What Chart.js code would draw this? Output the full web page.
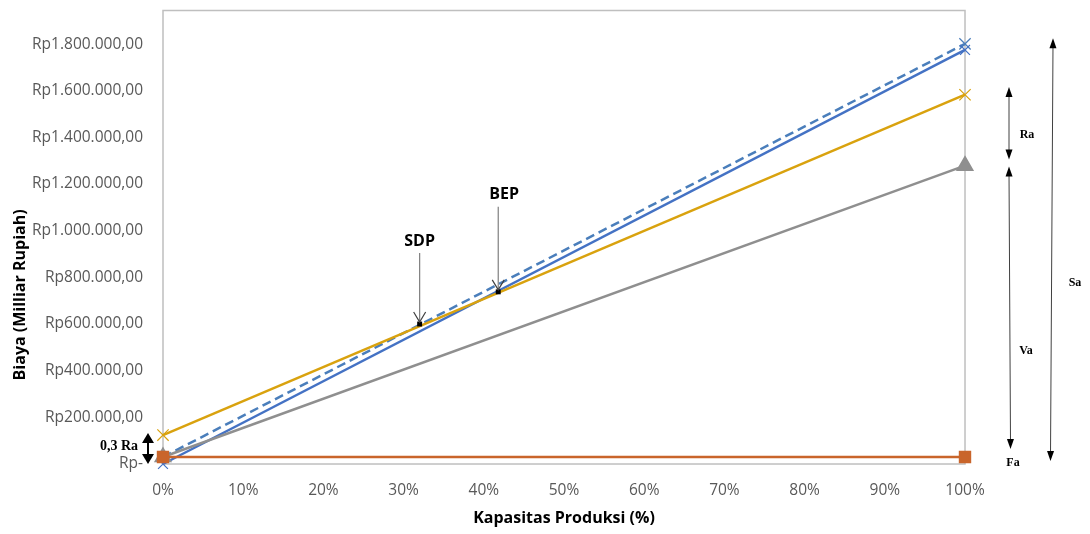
<!DOCTYPE html>
<html>
<head>
<meta charset="utf-8">
<script src="https://cdn.jsdelivr.net/npm/chart.js@4.4.0/dist/chart.umd.min.js"></script>
<style>
  body { margin: 0; background: #fff; }
</style>
</head>
<body>
<canvas id="bepChart" width="1090" height="534"></canvas>
<script>
// Data
const kapasitas = [0, 100];                  // Kapasitas Produksi (%)
const biayaTetap = [30000, 30000];           // Fa
const biayaVariabel = [30000, 1279000];      // Va
const biayaKuning = [124000, 1583000];       // garis kuning
const penjualan = [0, 1775000];              // garis biru
const penjualanPutus = [30000, 1801000];     // garis biru putus-putus
const titikLabel = ['SDP', 'BEP'];
const titikX = [32, 41.8];
const titikY = [600000, 738000];
const xTicks = [0, 10, 20, 30, 40, 50, 60, 70, 80, 90, 100];
const yTicks = [0, 200000, 400000, 600000, 800000, 1000000, 1200000, 1400000, 1600000, 1800000];

const toPoints = arr => kapasitas.map((x, i) => ({ x: x, y: arr[i] }));

function formatRp(v) {
  if (v === 0) return 'Rp-';
  return 'Rp' + String(v).replace(/\B(?=(\d{3})+(?!\d))/g, '.') + ',00';
}

// kepala panah segitiga, menunjuk ke (x2, y2)
function panah(ctx, x1, y1, x2, y2, w, h) {
  const ang = Math.atan2(y2 - y1, x2 - x1);
  ctx.save();
  ctx.translate(x2, y2);
  ctx.rotate(ang);
  ctx.beginPath();
  ctx.moveTo(0, 0);
  ctx.lineTo(-h, -w / 2);
  ctx.lineTo(-h, w / 2);
  ctx.closePath();
  ctx.fill();
  ctx.restore();
}

// kotak area plot + judul sumbu y
const bingkai = {
  id: 'bingkai',
  beforeDatasetsDraw(chart) {
    const a = chart.chartArea;
    const ctx = chart.ctx;
    ctx.save();
    ctx.strokeStyle = '#bfbfbf';
    ctx.lineWidth = 1.5;
    ctx.strokeRect(a.left, a.top, a.right - a.left, a.bottom - a.top);

    // judul sumbu y (di Excel agak turun dari tengah)
    ctx.translate(20, chart.scales.y.getPixelForValue(725000));
    ctx.rotate(-Math.PI / 2);
    ctx.fillStyle = '#000';
    ctx.font = 'bold 16px "Open Sans", sans-serif';
    ctx.textAlign = 'center';
    ctx.textBaseline = 'middle';
    ctx.fillText('Biaya (Milliar Rupiah)', 0, 0);
    ctx.restore();
  }
};

// anotasi SDP, BEP, dan panah Ra/Va/Sa/Fa
const anotasi = {
  id: 'anotasi',
  afterDatasetsDraw(chart) {
    const ctx = chart.ctx;
    const y = chart.scales.y;
    const a = chart.chartArea;
    const meta = chart.getDatasetMeta(5);
    ctx.save();

    // SDP & BEP
    const naik = [83, 97];
    meta.data.forEach((p, i) => {
      const top = p.y - naik[i];
      ctx.fillStyle = '#000';
      ctx.font = 'bold 16px "Open Sans", sans-serif';
      ctx.textAlign = 'center';
      ctx.textBaseline = 'middle';
      ctx.fillText(titikLabel[i], p.x + (i === 0 ? 0 : 6), top);
      ctx.strokeStyle = '#7f7f7f';
      ctx.lineWidth = 1.2;
      ctx.beginPath();
      ctx.moveTo(p.x, top + 12);
      ctx.lineTo(p.x, p.y - 2);
      ctx.stroke();
      ctx.strokeStyle = '#404040';
      ctx.beginPath();
      ctx.moveTo(p.x - 6, p.y - 12);
      ctx.lineTo(p.x, p.y - 2);
      ctx.lineTo(p.x + 6, p.y - 12);
      ctx.stroke();
    });

    // panah kanan
    ctx.strokeStyle = '#404040';
    ctx.fillStyle = '#000';
    ctx.lineWidth = 1;
    const garis = [
      { x1: a.right + 44, y1: y.getPixelForValue(1616000), x2: a.right + 44, y2: y.getPixelForValue(1305000) },
      { x1: a.right + 44, y1: y.getPixelForValue(1275000), x2: a.right + 45.5, y2: y.getPixelForValue(64000) },
      { x1: a.right + 88, y1: y.getPixelForValue(1825000), x2: a.right + 85.5, y2: y.getPixelForValue(13000) }
    ];
    garis.forEach(g => {
      ctx.beginPath();
      ctx.moveTo(g.x1, g.y1 + 6);
      ctx.lineTo(g.x2, g.y2 - 6);
      ctx.stroke();
      panah(ctx, g.x2, g.y2, g.x1, g.y1, 7, 10);
      panah(ctx, g.x1, g.y1, g.x2, g.y2, 7, 10);
    });

    ctx.font = 'bold 12px "Liberation Serif", serif';
    ctx.textAlign = 'center';
    ctx.textBaseline = 'middle';
    ctx.fillText('Ra', a.right + 62, y.getPixelForValue(1410000));
    ctx.fillText('Va', a.right + 61, y.getPixelForValue(485000));
    ctx.fillText('Sa', a.right + 110, y.getPixelForValue(775000));
    ctx.fillText('Fa', a.right + 48, y.getPixelForValue(4000));

    // 0,3 Ra
    const xa = a.left - 15;
    const ya = y.getPixelForValue(133000);
    const yb = y.getPixelForValue(0);
    ctx.lineWidth = 2;
    ctx.strokeStyle = '#000';
    ctx.beginPath();
    ctx.moveTo(xa, ya + 8);
    ctx.lineTo(xa, yb - 8);
    ctx.stroke();
    panah(ctx, xa, yb, xa, ya, 12, 10);
    panah(ctx, xa, ya, xa, yb, 12, 10);
    ctx.font = 'bold 14px "Liberation Serif", serif';
    ctx.textAlign = 'right';
    ctx.fillText('0,3 Ra', a.left - 25, y.getPixelForValue(75000));

    ctx.restore();
  }
};

const ctx = document.getElementById('bepChart').getContext('2d');
const bepChart = new Chart(ctx, {
  type: 'line',
  data: {
    datasets: [
      {
        label: 'Fa',
        data: toPoints(biayaTetap),
        borderColor: '#c9652b',
        backgroundColor: '#c9652b',
        borderWidth: 2.5,
        pointStyle: 'rect',
        pointRadius: 7,
        clip: false
      },
      {
        label: 'Va',
        data: toPoints(biayaVariabel),
        borderColor: '#8f8f8f',
        backgroundColor: '#8f8f8f',
        borderWidth: 2.5,
        pointStyle: 'triangle',
        pointRadius: 8,
        clip: false
      },
      {
        label: 'Kuning',
        data: toPoints(biayaKuning),
        borderColor: '#d9a20e',
        backgroundColor: '#d9a20e',
        borderWidth: 2.5,
        pointStyle: 'crossRot',
        pointRadius: 8,
        pointBorderWidth: 1.2,
        clip: false
      },
      {
        label: 'Penjualan',
        data: toPoints(penjualan),
        borderColor: '#4472c4',
        backgroundColor: '#4472c4',
        borderWidth: 2.5,
        pointStyle: 'crossRot',
        pointRadius: 7,
        pointBorderWidth: 1.2,
        clip: false
      },
      {
        label: 'Penjualan putus',
        data: toPoints(penjualanPutus),
        borderColor: '#4a7ebb',
        backgroundColor: '#4a7ebb',
        borderWidth: 2.5,
        borderDash: [9, 5],
        pointStyle: 'crossRot',
        pointRadius: 8,
        pointBorderWidth: 1.2,
        clip: false
      },
      {
        label: 'Titik',
        data: titikX.map((x, i) => ({ x: x, y: titikY[i] })),
        showLine: false,
        order: -1,
        pointStyle: 'rect',
        pointRadius: 3.5,
        borderWidth: 0,
        backgroundColor: '#000',
        borderColor: '#000',
        clip: false
      }
    ]
  },
  options: {
    responsive: false,
    animation: false,
    layout: { padding: { top: 8, right: 125, left: 0, bottom: 0 } },
    plugins: {
      legend: { display: false },
      tooltip: { enabled: false }
    },
    scales: {
      x: {
        type: 'linear',
        min: 0,
        max: 100,
        afterBuildTicks: s => { s.ticks = xTicks.map(v => ({ value: v })); },
        afterFit: s => { s.height = 70; },
        grid: { display: false, drawTicks: false },
        border: { display: false },
        ticks: {
          padding: 17,
          color: '#595959',
          font: { family: '"Open Sans", sans-serif', size: 15.5 },
          callback: v => v + '%'
        },
        title: {
          display: true,
          text: 'Kapasitas Produksi (%)',
          color: '#000',
          font: { family: '"Open Sans", sans-serif', size: 16, weight: 'bold' },
          padding: { top: 0, bottom: 6 }
        }
      },
      y: {
        min: 0,
        max: 1944000,
        afterBuildTicks: s => { s.ticks = yTicks.map(v => ({ value: v })); },
        afterFit: s => { s.width = 163; s.paddingTop = 0; s.paddingBottom = 0; },
        grid: { display: false, drawTicks: false },
        border: { display: false },
        ticks: {
          padding: 20,
          color: '#595959',
          font: { family: '"Open Sans", sans-serif', size: 15.5 },
          callback: v => formatRp(v)
        },
        title: { display: false }
      }
    }
  },
  plugins: [bingkai, anotasi]
});
</script>
</body>
</html>
